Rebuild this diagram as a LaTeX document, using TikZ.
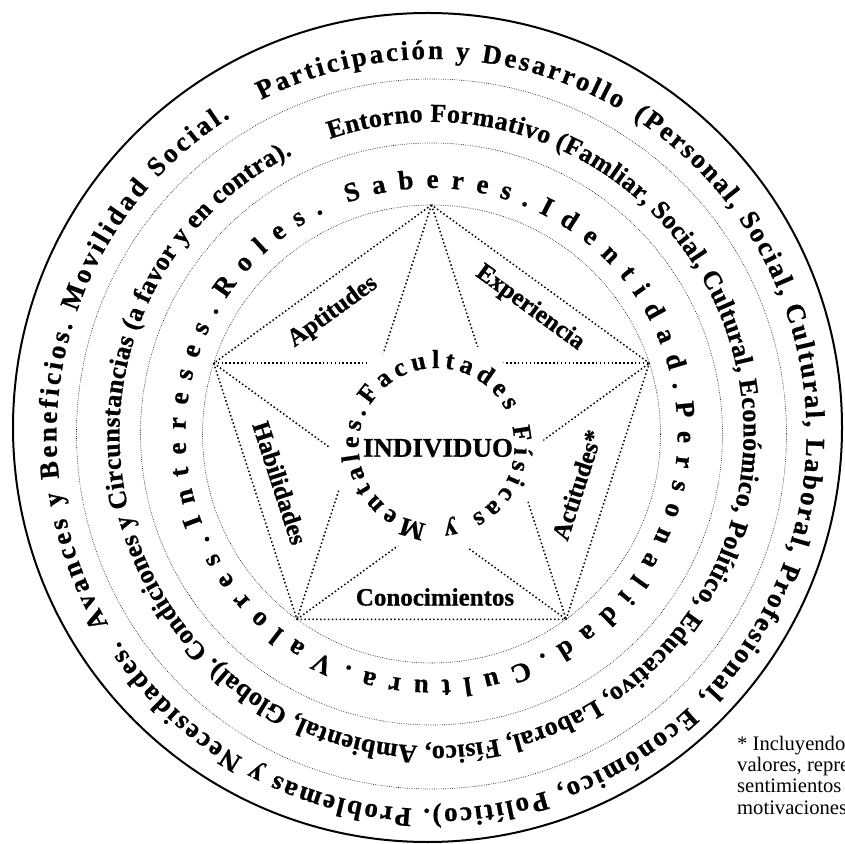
\documentclass[tikz,border=0pt]{standalone}
\usepackage{fontspec}
\setmainfont{Liberation Serif}[BoldFeatures={FakeBold=0.8}]
\usetikzlibrary{decorations.text}

\tikzset{
  thindot/.style={line width=0.6pt, dash pattern=on 0.6pt off 1.2pt},
  bolddot/.style={line width=1.5pt, dash pattern=on 1.5pt off 2.4pt},
  lbl/.style={font=\bfseries\fontsize{25}{28}\selectfont, inner sep=0pt},
  note/.style={font=\fontsize{20.6}{21.5}\selectfont, inner sep=0pt, anchor=base west},
  ringtext/.style={decorate, decoration={text along path, text align={fit to path}, text={#1}}}
}

\begin{document}
\begin{tikzpicture}[x=1pt,y=1pt]
\useasboundingbox (0,0) rectangle (845,843);
\fill[white] (0,0) rectangle (845,843);
\clip (0,0) rectangle (845,843);

\coordinate (O) at (431.5,409);
\coordinate (OC) at (427.5,415.5);
\coordinate (IC) at (436.5,397);

% circles
\draw[line width=2pt] (OC) circle[radius=414.5];
\draw[thindot] (O) circle[radius=355];
\draw[thindot] (O) circle[radius=291];
\draw[thindot] (O) circle[radius=229];

% pentagon and star
\foreach \i/\a in {1/90,2/162,3/234,4/306,5/18}
  \coordinate (p\i) at ([shift={(\a:229)}]O);
\draw[bolddot] (p1) -- (p2) -- (p3) -- (p4) -- (p5) -- cycle;
\draw[bolddot] (p1) -- (p3);
\draw[bolddot] (p1) -- (p4);
\draw[bolddot] (p2) -- (p4);
\draw[bolddot] (p2) -- (p5);
\draw[bolddot] (p3) -- (p5);
\fill[white] (IC) circle[radius=107];

% ring 1
\path[ringtext={|\bfseries\fontsize{27}{30}\selectfont|Participación y Desarrollo}]
  ([shift={(117:375)}]O) arc[start angle=117, end angle=60, radius=375];
\path[ringtext={|\bfseries\fontsize{27}{30}\selectfont|(Personal, Social, Cultural, Laboral, Profesional,}]
  ([shift={(57.5:375)}]O) arc[start angle=57.5, end angle=-44.5, radius=375];
\path[ringtext={|\bfseries\fontsize{27}{30}\selectfont|Económico, Político). Problemas y Necesidades.}]
  ([shift={(-46.8:375)}]O) arc[start angle=-46.8, end angle=-146.5, radius=375];
\path[ringtext={|\bfseries\fontsize{27}{30}\selectfont|Avances y Beneficios. Movilidad Social.}]
  ([shift={(-149.5:375)}]O) arc[start angle=-149.5, end angle=-237.5, radius=375];

% ring 2
\path[ringtext={|\bfseries\fontsize{26}{30}\selectfont|Entorno Formativo (Famliar, Social, Cultural, Económico, Político, Educativo, Laboral, Físico, Ambiental, Global). Condiciones y Circunstancias (a favor y en contra).}]
  ([shift={(109:312)}]O) arc[start angle=109, end angle=-243.5, radius=312];

% ring 3
\path[ringtext={|\bfseries\fontsize{27}{30}\selectfont|Saberes.Identidad.Personalidad.Cultura.Valores.Intereses.Roles.}]
  ([shift={(110:246)}]O) arc[start angle=110, end angle=-244, radius=246];

% inner ring
\path[ringtext={|\bfseries\fontsize{26}{30}\selectfont|Facultades Físicas y Mentales.}]
  ([shift={(148.5:78)}]IC) arc[start angle=148.5, end angle=-206.5, radius=78];

% labels
\node[lbl, rotate=36] (apt) at (333,531) {Aptitudes};
\node[lbl, rotate=-36] (exp) at (530,535) {Experiencia};
\node[lbl, rotate=-72] (hab) at (280,360) {Habilidades};
\node[lbl, rotate=72] (act) at (577,358) {Actitudes*};
\node[lbl] (con) at (435,246) {Conocimientos};
\node[font=\bfseries\fontsize{27}{30}\selectfont, inner sep=0pt] (ind) at (438,395) {INDIVIDUO};

% footnote
\node[note] (n1) at (737,93) {* Incluyendo};
\node[note] (n2) at (737,71.5) {valores, repre};
\node[note] (n3) at (737,50.5) {sentimientos};
\node[note] (n4) at (737,29) {motivaciones};
\end{tikzpicture}
\end{document}
